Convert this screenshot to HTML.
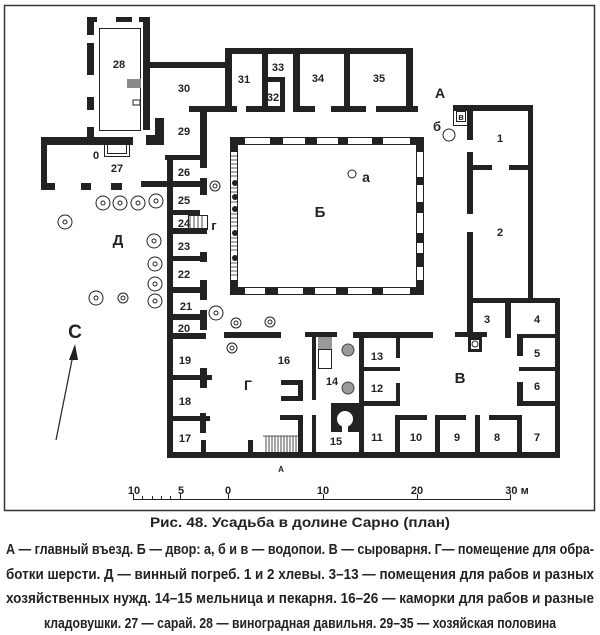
<!DOCTYPE html>
<html><head><meta charset="utf-8"><style>
html,body{margin:0;padding:0;background:#fff;}
svg{display:block;}
text{font-family:"Liberation Sans",sans-serif;font-weight:bold;fill:#222;}
.n{font-size:11px;text-anchor:middle;}
.c{font-size:15px;font-weight:bold;}
</style></head><body>
<svg width="600" height="635" viewBox="0 0 600 635" xmlns="http://www.w3.org/2000/svg">
<rect x="4.5" y="5.5" width="590" height="505" fill="none" stroke="#333" stroke-width="1.5"/>
<g fill="#222">
<rect x="87" y="17" width="10" height="5"/><rect x="116" y="17" width="16" height="5"/><rect x="139" y="17" width="11" height="5"/>
<rect x="87" y="17" width="7" height="18"/><rect x="87" y="43" width="7" height="32"/><rect x="87" y="97" width="7" height="13"/><rect x="87" y="127" width="7" height="18"/>
<rect x="143" y="17" width="7" height="113"/>
<rect x="150" y="62" width="80" height="6"/>
<rect x="41" y="137" width="92" height="8"/><rect x="41" y="137" width="6" height="53"/><rect x="41" y="183" width="14" height="7"/>
<rect x="81" y="183" width="10" height="7"/><rect x="111" y="183" width="11" height="7"/>
<rect x="155" y="118" width="9" height="27"/><rect x="146" y="135" width="18" height="10"/>
<rect x="189" y="106" width="48" height="6"/><rect x="246" y="106" width="34" height="6"/>
<rect x="200" y="106" width="7" height="62"/>
<rect x="225" y="48" width="188" height="6"/><rect x="225" y="48" width="7" height="64"/>
<rect x="262" y="48" width="6" height="64"/><rect x="268" y="77" width="17" height="5"/><rect x="280" y="77" width="5" height="35"/>
<rect x="293" y="48" width="7" height="64"/><rect x="344" y="48" width="6" height="64"/><rect x="406" y="48" width="7" height="64"/>
<rect x="293" y="106" width="22" height="6"/><rect x="331" y="106" width="35" height="6"/><rect x="376" y="106" width="42" height="6"/>
<rect x="453" y="105" width="80" height="6"/><rect x="528" y="105" width="5" height="197"/>
<rect x="467" y="108" width="6" height="32"/><rect x="467" y="152" width="6" height="62"/><rect x="467" y="232" width="6" height="100"/>
<rect x="473" y="165" width="19" height="5"/><rect x="509" y="165" width="19" height="5"/>
<rect x="467" y="298" width="93" height="5"/><rect x="555" y="298" width="5" height="160"/>
<rect x="505" y="300" width="6" height="38"/>
<rect x="455" y="332" width="32" height="5"/><rect x="468" y="337" width="14" height="15"/>
<rect x="517" y="334" width="40" height="4"/><rect x="517" y="334" width="6" height="22"/>
<rect x="519" y="367" width="38" height="4"/><rect x="517" y="382" width="6" height="24"/><rect x="517" y="401" width="40" height="5"/>
<rect x="167" y="452" width="393" height="6"/>
<rect x="395" y="415" width="5" height="43"/><rect x="395" y="415" width="32" height="5"/>
<rect x="435" y="415" width="5" height="43"/><rect x="435" y="415" width="31" height="5"/>
<rect x="475" y="415" width="5" height="43"/><rect x="489" y="415" width="33" height="5"/><rect x="517" y="415" width="5" height="40"/>
<rect x="359" y="333" width="5" height="122"/><rect x="353" y="332" width="80" height="6"/>
<rect x="396" y="333" width="4" height="25"/><rect x="359" y="367" width="41" height="4"/><rect x="396" y="383" width="4" height="23"/><rect x="359" y="401" width="41" height="5"/>
<rect x="331" y="403" width="30" height="29"/>
<rect x="305" y="332" width="32" height="5"/><rect x="312" y="332" width="4" height="68"/><rect x="312" y="415" width="4" height="43"/>
<rect x="167" y="155" width="6" height="303"/><rect x="165" y="155" width="42" height="5"/>
<rect x="141" y="181" width="66" height="6"/><rect x="200" y="178" width="7" height="17"/>
<rect x="167" y="210" width="33" height="5"/><rect x="167" y="228" width="40" height="6"/>
<rect x="167" y="256" width="40" height="5"/><rect x="200" y="252" width="7" height="10"/>
<rect x="167" y="287" width="40" height="6"/><rect x="200" y="280" width="7" height="20"/>
<rect x="167" y="314" width="40" height="6"/><rect x="200" y="310" width="7" height="20"/>
<rect x="173" y="333" width="33" height="6"/>
<rect x="173" y="375" width="32" height="5"/><rect x="200" y="368" width="7" height="20"/><rect x="200" y="375" width="12" height="5"/>
<rect x="173" y="416" width="32" height="5"/><rect x="200" y="413" width="6" height="20"/><rect x="200" y="416" width="10" height="5"/>
<rect x="201" y="440" width="5" height="18"/>
<rect x="224" y="332" width="57" height="6"/>
<rect x="281" y="380" width="22" height="5"/><rect x="298" y="380" width="5" height="21"/><rect x="281" y="396" width="22" height="5"/>
<rect x="280" y="415" width="23" height="5"/><rect x="298" y="415" width="5" height="40"/>
<rect x="248" y="440" width="5" height="18"/>
</g>
<rect x="99.5" y="28.5" width="41" height="102" fill="none" stroke="#222" stroke-width="1"/>
<rect x="127" y="79" width="14" height="9" fill="#888"/>
<rect x="133" y="100" width="7" height="5" fill="none" stroke="#222"/>
<rect x="104.5" y="144.5" width="25" height="12" fill="none" stroke="#222"/>
<rect x="107.5" y="144.5" width="19" height="9" fill="none" stroke="#222"/>
<rect x="230.5" y="137.5" width="193" height="157" fill="none" stroke="#222" stroke-width="1"/>
<rect x="237.5" y="144.5" width="179" height="143" fill="none" stroke="#222" stroke-width="1"/>
<g fill="#222">
<rect x="230" y="137" width="15" height="7"/><rect x="270" y="137" width="13" height="7"/><rect x="305" y="137" width="12" height="7"/><rect x="338" y="137" width="10" height="7"/><rect x="372" y="137" width="11" height="7"/><rect x="410" y="137" width="14" height="7"/>
<rect x="230" y="288" width="15" height="7"/><rect x="265" y="288" width="13" height="7"/><rect x="303" y="288" width="12" height="7"/><rect x="336" y="288" width="12" height="7"/><rect x="372" y="288" width="11" height="7"/><rect x="410" y="288" width="14" height="7"/>
<rect x="417" y="137" width="7" height="15"/><rect x="417" y="177" width="7" height="8"/><rect x="417" y="202" width="7" height="11"/><rect x="417" y="233" width="7" height="10"/><rect x="417" y="253" width="7" height="14"/><rect x="417" y="280" width="7" height="15"/>
<rect x="230" y="137" width="7" height="15"/><rect x="230" y="280" width="7" height="15"/>
<circle cx="235" cy="183" r="3"/><circle cx="235" cy="197" r="3"/><circle cx="235" cy="209" r="3"/><circle cx="235" cy="233" r="3"/><circle cx="235" cy="258" r="3"/>
</g>
<g stroke="#222" stroke-width="0.8">
<path d="M231 156h6M231 160h6M231 164h6M231 168h6M231 172h6M231 176h6M231 188h6M231 192h6M231 202h6M231 214h6M231 218h6M231 222h6M231 226h6M231 238h6M231 242h6M231 246h6M231 250h6M231 263h6M231 267h6M231 271h6M231 275h6"/>
<path d="M190 215v15M194 215v15M198 215v15M202 215v15"/>
<path d="M266 436v16M269 436v16M272 436v16M275 436v16M278 436v16M281 436v16M284 436v16M287 436v16M290 436v16M293 436v16M296 436v16"/>
<path d="M263 436h40"/>
</g>
<rect x="188.5" y="215.5" width="19" height="14" fill="none" stroke="#222"/>
<rect x="318" y="337" width="14" height="12" fill="#999"/><rect x="318.5" y="349.5" width="13" height="19" fill="none" stroke="#222"/>
<circle cx="345" cy="419" r="8" fill="#fff"/><rect x="342" y="425" width="6" height="7" fill="#fff"/>
<rect x="471" y="340" width="8" height="9" fill="#fff"/><circle cx="475" cy="344" r="3" fill="none" stroke="#222"/>
<circle cx="348" cy="350" r="6" fill="#999" stroke="#444"/><circle cx="348" cy="388" r="6" fill="#999" stroke="#444"/>
<rect x="453.5" y="108.5" width="14" height="17" fill="none" stroke="#222"/><rect x="456.5" y="111.5" width="9" height="10" fill="none" stroke="#222"/>
<circle cx="449" cy="135" r="6" fill="none" stroke="#222"/>
<circle cx="352" cy="174" r="4" fill="none" stroke="#222"/>
<g fill="none" stroke="#222" stroke-width="1">
<circle cx="103" cy="203" r="7"/><circle cx="103" cy="203" r="2"/>
<circle cx="120" cy="203" r="7"/><circle cx="120" cy="203" r="2"/>
<circle cx="138" cy="203" r="7"/><circle cx="138" cy="203" r="2"/>
<circle cx="156" cy="201" r="7"/><circle cx="156" cy="201" r="2"/>
<circle cx="65" cy="222" r="7"/><circle cx="65" cy="222" r="2"/>
<circle cx="154" cy="241" r="7"/><circle cx="154" cy="241" r="2"/>
<circle cx="155" cy="264" r="7"/><circle cx="155" cy="264" r="2"/>
<circle cx="155" cy="284" r="7"/><circle cx="155" cy="284" r="2"/>
<circle cx="155" cy="301" r="7"/><circle cx="155" cy="301" r="2"/>
<circle cx="96" cy="298" r="7"/><circle cx="96" cy="298" r="2"/>
<circle cx="123" cy="298" r="5"/><circle cx="123" cy="298" r="2"/>
<circle cx="215" cy="186" r="5"/><circle cx="215" cy="186" r="2"/>
<circle cx="216" cy="313" r="7"/><circle cx="216" cy="313" r="2"/>
<circle cx="236" cy="323" r="5"/><circle cx="236" cy="323" r="2"/>
<circle cx="270" cy="322" r="5"/><circle cx="270" cy="322" r="2"/>
<circle cx="232" cy="348" r="5"/><circle cx="232" cy="348" r="2"/>
</g>
<line x1="56" y1="440" x2="73" y2="355" stroke="#222" stroke-width="1.2"/>
<polygon points="75,344 69,360 78,360" fill="#222"/>
<text x="75" y="338" style="font-size:19px" text-anchor="middle">С</text>
<g class="n">
<text class="n" x="119" y="68">28</text><text class="n" x="184" y="92">30</text><text class="n" x="184" y="135">29</text>
<text class="n" x="244" y="83">31</text><text class="n" x="278" y="71">33</text><text class="n" x="273" y="101">32</text>
<text class="n" x="318" y="82">34</text><text class="n" x="379" y="82">35</text>
<text class="n" x="96" y="159">0</text><text class="n" x="117" y="172">27</text>
<text class="n" x="184" y="176">26</text><text class="n" x="184" y="204">25</text><text class="n" x="184" y="227">24</text><text class="n" x="184" y="250">23</text>
<text class="n" x="184" y="278">22</text><text class="n" x="186" y="310">21</text><text class="n" x="184" y="332">20</text>
<text class="n" x="185" y="364">19</text><text class="n" x="185" y="405">18</text><text class="n" x="185" y="442">17</text>
<text class="n" x="284" y="364">16</text><text class="n" x="332" y="385">14</text><text class="n" x="336" y="445">15</text>
<text class="n" x="377" y="360">13</text><text class="n" x="377" y="392">12</text><text class="n" x="377" y="441">11</text>
<text class="n" x="416" y="441">10</text><text class="n" x="457" y="441">9</text><text class="n" x="497" y="441">8</text><text class="n" x="537" y="441">7</text>
<text class="n" x="537" y="390">6</text><text class="n" x="537" y="357">5</text><text class="n" x="537" y="323">4</text><text class="n" x="487" y="323">3</text>
<text class="n" x="500" y="236">2</text><text class="n" x="500" y="142">1</text>
<text class="n" x="461" y="120" style="font-size:9px">в</text>
<text class="n" x="281" y="472" style="font-size:8px">А</text>
</g>
<text x="440" y="98" style="font-size:14px" text-anchor="middle">А</text>
<text x="437" y="131" style="font-size:13px" text-anchor="middle">б</text>
<text x="366" y="182" style="font-size:14px" text-anchor="middle">а</text>
<text x="320" y="217" style="font-size:15px" text-anchor="middle">Б</text>
<text x="214" y="230" style="font-size:13px" text-anchor="middle">г</text>
<text x="118" y="245" style="font-size:15px" text-anchor="middle">Д</text>
<text x="248" y="390" style="font-size:14px" text-anchor="middle">Г</text>
<text x="460" y="383" style="font-size:15px" text-anchor="middle">В</text>
<g stroke="#222" stroke-width="1">
<line x1="133" y1="499.5" x2="510" y2="499.5"/>
<path d="M133.5 494v6M142.5 496v4M152.5 496v4M161.5 496v4M170.5 496v4M180.5 494v6M228.5 494v6M323.5 494v6M417.5 494v6M510.5 494v6"/>
</g>
<g class="n"><text class="n" x="134" y="494">10</text><text class="n" x="181" y="494">5</text><text class="n" x="228" y="494">0</text>
<text class="n" x="323" y="494">10</text><text class="n" x="417" y="494">20</text><text class="n" x="517" y="494">30 м</text></g>
<text x="300" y="527" style="font-size:14px" text-anchor="middle" textLength="300" lengthAdjust="spacingAndGlyphs">Рис. 48. Усадьба в долине Сарно (план)</text>
<text class="c" x="6" y="554" textLength="588" lengthAdjust="spacingAndGlyphs">А — главный въезд. Б — двор: а, б и в — водопои. В — сыроварня. Г— помещение для обра-</text>
<text class="c" x="6" y="579" textLength="588" lengthAdjust="spacingAndGlyphs">ботки шерсти. Д — винный погреб. 1 и 2 хлевы. 3–13 — помещения для рабов и разных</text>
<text class="c" x="6" y="603" textLength="588" lengthAdjust="spacingAndGlyphs">хозяйственных нужд. 14–15 мельница и пекарня. 16–26 — каморки для рабов и разные</text>
<text class="c" x="44" y="628" textLength="512" lengthAdjust="spacingAndGlyphs">кладовушки. 27 — сарай. 28 — виноградная давильня. 29–35 — хозяйская половина</text>
</svg>
</body></html>
